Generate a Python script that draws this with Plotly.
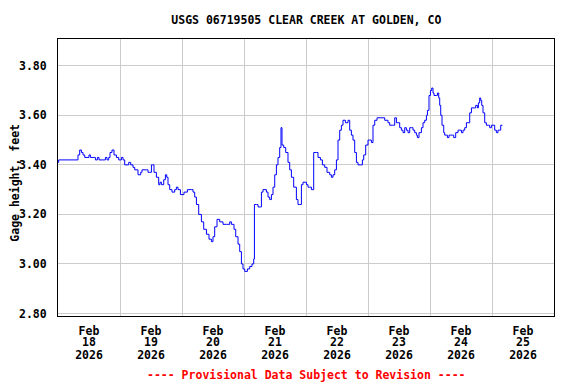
import pandas as pd
import plotly.graph_objects as go

# ---- data (hours since 2026-02-18 00:00, gage height ft)
start_date = "2026-02-18"
hours = [0.0, 0.25, 7.35, 7.74, 8.40, 9.06, 9.68, 10.34, 11.61, 12.00, 12.54, 14.21, 14.48, 15.25,
         15.87, 17.81, 18.35, 18.97, 19.63, 20.13, 20.90, 21.68, 22.61, 23.50, 24.54, 25.16, 25.82,
         27.10, 27.37, 28.14, 29.03, 29.69, 30.97, 32.01, 32.52, 34.22, 34.84, 35.50, 36.16, 36.66,
         37.16, 38.09, 38.98, 39.48, 40.03, 40.92, 41.57, 42.08, 42.58, 43.24, 44.13, 45.17, 45.83,
         46.45, 47.38, 48.39, 48.77, 50.09, 51.64, 52.26, 52.92, 53.58, 54.47, 55.51, 56.40, 57.45,
         58.45, 59.38, 60.00, 60.66, 61.55, 62.59, 63.87, 65.19, 66.47, 67.12, 68.13, 68.79, 69.68,
         70.34, 71.00, 71.61, 72.27, 73.32, 74.21, 75.10, 75.76, 76.03, 76.80, 77.42, 78.35, 78.74,
         79.36, 80.67, 81.29, 81.95, 82.61, 83.23, 83.89, 84.54, 85.16, 85.82, 86.32, 86.71, 87.37,
         88.14, 89.03, 89.69, 90.35, 91.24, 92.28, 92.90, 93.56, 94.22, 94.84, 96.16, 96.78, 97.43,
         98.09, 98.71, 98.98, 100.03, 100.65, 101.58, 102.35, 103.24, 104.13, 105.18, 105.83, 106.45,
         107.11, 107.77, 108.39, 109.05, 109.70, 110.32, 111.25, 112.26, 112.92, 113.57, 114.19,
         114.85, 115.51, 116.13, 117.06, 117.83, 118.34, 119.11, 120.00, 120.66, 121.32, 121.94,
         122.60, 123.49, 125.81, 126.47, 127.74, 128.40, 129.45, 130.34, 131.00, 131.61, 132.27,
         132.93, 133.55, 134.21, 134.86, 135.48, 136.14, 136.80, 137.42, 138.08, 138.73, 139.12,
         139.74, 140.67, 141.29, 141.95, 142.61, 143.00, 143.61, 144.16, 144.66, 145.16, 145.55,
         146.48, 146.87, 147.37, 147.76, 148.15, 148.65, 149.31, 149.69, 150.35, 150.74, 151.36,
         152.01, 152.67, 153.18, 153.95, 154.84, 155.50, 156.16, 156.78, 157.43, 158.09, 158.71,
         159.37, 160.03, 160.65, 161.30, 161.69, 162.35, 162.73, 163.24, 163.63, 164.02, 164.52,
         165.18, 165.83, 166.72, 167.11, 167.77, 168.39, 169.04, 169.70, 170.32, 170.98, 171.37,
         172.03]
gage_ft = [3.41, 3.42, 3.42, 3.44, 3.46, 3.45, 3.44, 3.43, 3.43, 3.44, 3.43, 3.43, 3.42, 3.43,
           3.42, 3.42, 3.43, 3.42, 3.43, 3.45, 3.46, 3.44, 3.43, 3.42, 3.43, 3.42, 3.40,
           3.40, 3.41, 3.40, 3.39, 3.38, 3.36, 3.37, 3.38, 3.38, 3.37, 3.37, 3.40, 3.40,
           3.37, 3.35, 3.32, 3.33, 3.32, 3.34, 3.36, 3.35, 3.32, 3.30, 3.29, 3.30, 3.31,
           3.30, 3.28, 3.28, 3.29, 3.30, 3.30, 3.29, 3.27, 3.24, 3.20, 3.17, 3.14, 3.12,
           3.10, 3.09, 3.11, 3.15, 3.18, 3.17, 3.16, 3.16, 3.17, 3.16, 3.14, 3.11, 3.08,
           3.05, 3.00, 2.98, 2.97, 2.98, 2.99, 3.00, 3.02, 3.24, 3.24, 3.23, 3.23, 3.29,
           3.30, 3.29, 3.27, 3.26, 3.28, 3.31, 3.36, 3.40, 3.43, 3.47, 3.55, 3.48, 3.47,
           3.45, 3.41, 3.38, 3.35, 3.31, 3.26, 3.24, 3.24, 3.32, 3.33, 3.32, 3.31, 3.31,
           3.30, 3.30, 3.45, 3.45, 3.43, 3.42, 3.40, 3.39, 3.37, 3.36, 3.35, 3.36,
           3.38, 3.42, 3.50, 3.54, 3.56, 3.58, 3.57, 3.58, 3.54, 3.52, 3.50,
           3.45, 3.41, 3.40, 3.40, 3.42, 3.44, 3.48, 3.50, 3.50, 3.49, 3.56,
           3.58, 3.59, 3.59, 3.58, 3.57, 3.56, 3.56, 3.59, 3.57, 3.57, 3.55,
           3.54, 3.53, 3.55, 3.54, 3.53, 3.55, 3.55, 3.54, 3.53, 3.52, 3.51,
           3.53, 3.55, 3.57, 3.58, 3.60, 3.62, 3.68, 3.70, 3.71, 3.69, 3.68,
           3.68, 3.69, 3.67, 3.64, 3.60, 3.56, 3.53, 3.52, 3.52, 3.51, 3.52,
           3.52, 3.52, 3.51, 3.53, 3.54, 3.54, 3.53, 3.54, 3.55, 3.57, 3.57,
           3.61, 3.63, 3.63, 3.63, 3.64, 3.63, 3.65, 3.67, 3.66, 3.64, 3.61,
           3.57, 3.56, 3.56, 3.55, 3.56, 3.56, 3.54, 3.53, 3.54, 3.54, 3.56,
           3.56]

tick_dates = ["2026-02-18", "2026-02-19", "2026-02-20", "2026-02-21",
              "2026-02-22", "2026-02-23", "2026-02-24", "2026-02-25"]
tick_months = ["Feb"] * 8
tick_days = ["18", "19", "20", "21", "22", "23", "24", "25"]
tick_years = ["2026"] * 8
y_ticks = [2.80, 3.00, 3.20, 3.40, 3.60, 3.80]

title_text = "USGS 06719505 CLEAR CREEK AT GOLDEN, CO"
y_title = "Gage height, feet"
footer_text = "---- Provisional Data Subject to Revision ----"

# ---- build
base = pd.Timestamp(start_date)
times = [base + pd.Timedelta(hours=h) for h in hours]
day_starts = [pd.Timestamp(d) for d in tick_dates] + [pd.Timestamp(tick_dates[-1]) + pd.Timedelta(days=1)]
label_pos = [pd.Timestamp(d) + pd.Timedelta(hours=12) for d in tick_dates]
x_range = [day_starts[0], day_starts[-1]]

FONT = "DejaVu Sans Mono"
fsize = 11.5
OFF = 8  # page body margin offset in the browser

W, H = 576 - OFF, 384 - OFF
L, R, T, B = 58.3 - OFF, 554.3 - OFF, 39.3 - OFF, 315.7 - OFF
bold = dict(family=FONT, size=fsize, color="black", weight="bold")

fig = go.Figure()
fig.add_trace(go.Scatter(x=times, y=gage_ft, mode="lines", line=dict(color="#0000FF", width=1, shape="hv"),
                         showlegend=False, hoverinfo="skip"))

common_x = dict(range=x_range, type="date", showgrid=False, zeroline=False, ticks="", automargin=False,
                tickfont=bold)

fig.update_layout(
    width=W, height=H,
    margin=dict(l=L, r=W - R, t=T, b=H - B, pad=0, autoexpand=False),
    paper_bgcolor="white", plot_bgcolor="white",
    font=bold,
    title=dict(text=title_text, x=(L + R) / 2 / W, xanchor="center", y=1 - (19.5 - OFF) / H, yanchor="middle",
               automargin=False, font=bold),
    xaxis=dict(**common_x, tickmode="array", tickvals=label_pos, ticktext=tick_months,
               showline=True, linecolor="black", linewidth=1, mirror=True,
               ticklabelstandoff=4,
               minor=dict(tickmode="array", tickvals=day_starts, showgrid=True, gridcolor="#CCCCCC", gridwidth=1, ticks="")),
    xaxis2=dict(**common_x, overlaying="x", anchor="y", side="bottom", tickmode="array", tickvals=label_pos,
                ticktext=tick_days, showline=False, ticklabelstandoff=17),
    xaxis3=dict(**common_x, overlaying="x", anchor="y", side="bottom", tickmode="array", tickvals=label_pos,
                ticktext=tick_years, showline=False, ticklabelstandoff=30),
    yaxis=dict(range=[2.79, 3.908], tickmode="array", tickvals=y_ticks, tickformat=".2f", automargin=False,
               showgrid=True, gridcolor="#CCCCCC", gridwidth=1, zeroline=False, ticks="",
               showline=True, linecolor="black", linewidth=1, mirror=True, ticklabelstandoff=8,
               tickfont=bold),
)
# invisible traces to activate overlay axes
fig.add_trace(go.Scatter(x=[times[0]], y=[gage_ft[0]], xaxis="x2", mode="markers", marker=dict(opacity=0),
                         showlegend=False, hoverinfo="skip"))
fig.add_trace(go.Scatter(x=[times[0]], y=[gage_ft[0]], xaxis="x3", mode="markers", marker=dict(opacity=0),
                         showlegend=False, hoverinfo="skip"))

# y-axis title
fig.add_annotation(text=y_title, xref="paper", yref="paper",
                   x=(15 - OFF - L) / (R - L), y=(B - (183 - OFF)) / (B - T),
                   xanchor="center", yanchor="middle", textangle=-90, showarrow=False, font=bold,
                   borderpad=0)

fig.add_annotation(text=footer_text, xref="paper", yref="paper", x=0.5, y=-(375 - 315.7) / (B - T),
                   xanchor="center", yanchor="middle", showarrow=False,
                   font=dict(family=FONT, size=fsize, color="#FF0000", weight="bold"))

fig.write_html("out.html")
